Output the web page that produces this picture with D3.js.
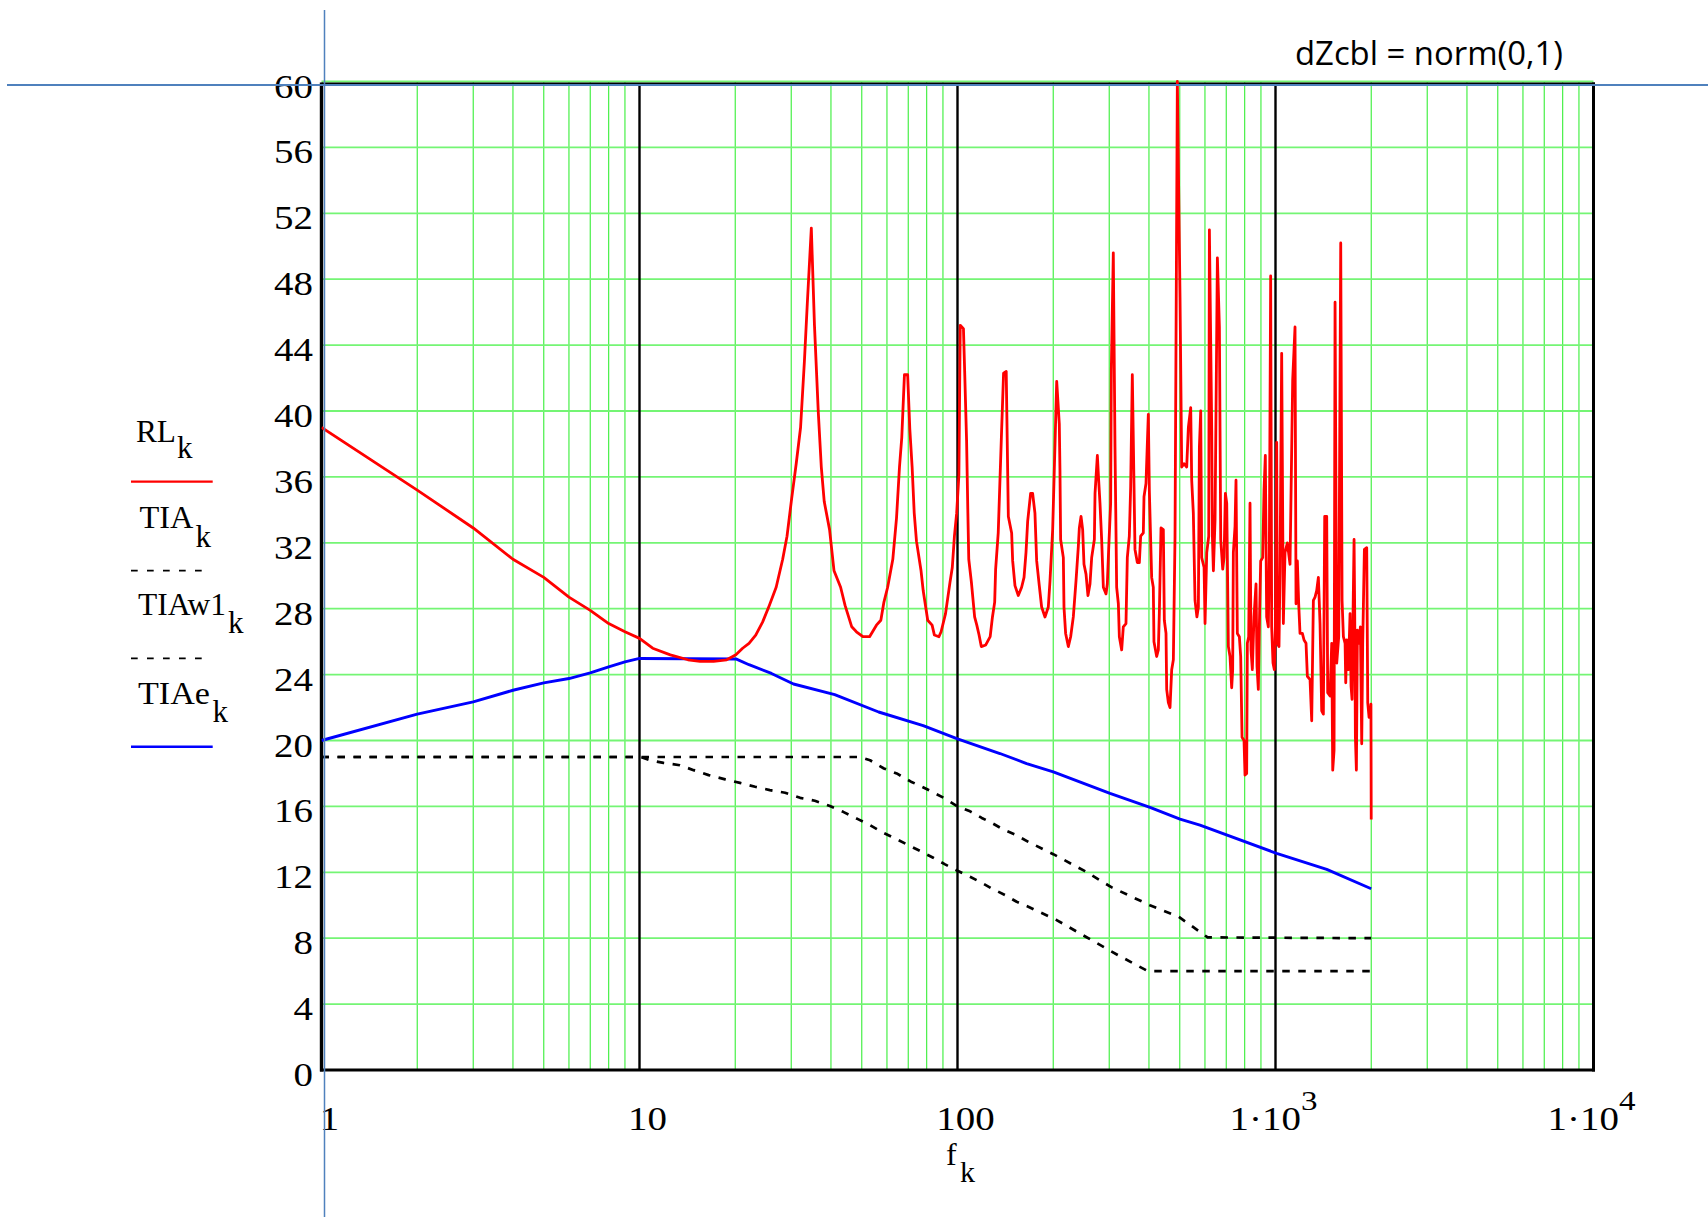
<!DOCTYPE html>
<html>
<head>
<meta charset="utf-8">
<script src="https://cdn.jsdelivr.net/npm/d3@7"></script>
<style>
  html, body { margin: 0; padding: 0; background: #ffffff; }
  svg { display: block; }
</style>
</head>
<body>
<svg id="chart" width="1708" height="1217"></svg>
<script>
// Return loss RL_k versus frequency f_k, with the TIA limit curves.
// Each point is [f, dB].
const rlData = [
  [1,39.0],[2,35.2],[3,32.9],[4,31.0],[5,29.9],[6,28.7],[7,27.9],[8,27.1],[9,26.6],[10,26.2],
  [11,25.6],[12.5,25.2],[14.2,24.9],[15.5,24.8],[17.1,24.8],[18.8,24.9],[20.1,25.2],[21.1,25.6],
  [22.1,25.9],[23.2,26.4],[24.4,27.2],[25.6,28.2],[26.9,29.3],[28.2,31.0],[29.1,32.4],[30.1,34.7],
  [31.1,36.8],[32.1,39.0],[33.0,43.0],[33.7,46.5],[34.7,51.1],[35.5,45.2],[36.5,39.9],[37.3,36.6],
  [38.1,34.5],[39.6,32.8],[40.9,30.3],[42.9,29.3],[44.3,28.2],[46.5,26.9],[48.1,26.6],[50.4,26.3],
  [52.9,26.3],[55.6,27.0],[57.4,27.3],[58.7,28.4],[60.3,29.3],[62.6,31.0],[64.3,33.5],[65.7,36.6],
  [66.8,38.4],[68.1,42.2],[69.7,42.2],[70.8,38.9],[72.0,36.6],[73.1,33.8],[74.3,32.1],[76.8,30.3],
  [78.0,29.1],[80.6,27.3],[83.2,27.0],[84.6,26.4],[87.4,26.3],[88.8,26.6],[91.7,27.7],[94.7,29.6],
  [96.3,30.5],[97.8,32.4],[99.4,33.8],[101.0,36.1],[102.0,45.2],[104.4,45.0],[105.4,42.2],[106.8,38.2],
  [107.8,33.8],[108.5,31.0],[110.6,29.6],[113.2,27.5],[115.0,27.0],[116.9,26.4],[118.8,25.7],[122.7,25.8],
  [126.7,26.3],[128.8,27.5],[130.9,28.4],[131.8,30.4],[134.3,32.6],[137.4,38.4],[139.6,42.3],[142.3,42.4],
  [144.5,33.6],[148.0,32.6],[149.1,30.9],[151.6,29.4],[155.3,28.8],[159.1,29.3],[161.9,29.9],[164.2,31.4],
  [166.2,33.3],[169.8,35.0],[172.3,35.0],[175.2,33.8],[177.4,30.9],[180.8,29.4],[183.9,28.1],[188.4,27.5],
  [193.0,28.1],[195.4,29.7],[199.2,32.8],[205.1,41.8],[209.0,39.2],[210.0,36.4],[211.0,32.2],[215.2,31.1],
  [216.2,28.1],[218.8,26.5],[223.1,25.7],[226.9,26.3],[231.3,27.5],[235.9,29.7],[239.9,31.8],[241.6,32.9],
  [244.6,33.6],[247.5,32.8],[249.9,30.7],[253.6,30.1],[257.2,28.8],[261.0,29.5],[264.2,31.1],[269.4,32.2],
  [270.7,35.0],[275.3,37.3],[277.9,35.8],[280.6,34.4],[284.0,32.2],[287.5,29.3],[293.1,28.9],[295.9,29.5],
  [298.8,31.6],[303.1,34.4],[304.6,42.5],[309.0,49.6],[312.8,37.8],[316.6,29.3],[320.5,28.3],[322.8,26.3],
  [328.3,25.5],[332.2,26.9],[338.7,27.1],[342.0,31.1],[347.0,32.4],[350.4,35.4],[354.6,42.2],[358.9,35.6],
  [361.5,31.6],[367.7,30.8],[373.1,30.8],[376.7,32.4],[384.0,32.6],[385.9,34.8],[391.5,35.6],[398.2,39.8],
  [401.1,35.2],[407.9,29.9],[412.8,29.3],[414.8,26.0],[423.0,25.1],[428.1,25.5],[431.2,27.7],[436.5,32.9],
  [443.9,32.8],[447.1,27.3],[452.6,26.5],[454.8,23.1],[460.3,22.3],[465.9,22.0],[471.6,24.3],[477.3,24.9],
  [483.1,32.4],[491.3,60.0],[500.9,46.9],[507.0,36.6],[515.6,36.8],[525.7,36.6],[532.1,39.0],[541.2,40.2],
  [545.1,35.8],[551.6,33.8],[558.4,28.5],[566.0,27.5],[572.1,28.1],[576.3,37.8],[581.9,40.0],[586.1,31.1],
  [596.2,30.5],[600.4,27.1],[607.8,31.4],[616.6,32.4],[619.6,51.0],[630.2,38.8],[633.2,32.4],[637.8,30.3],
  [645.5,33.4],[656.5,49.3],[666.1,45.1],[672.6,32.2],[682.4,30.4],[689.0,31.1],[695.7,35.0],[702.5,34.4],
  [710.9,25.7],[719.4,25.1],[728.1,23.2],[733.4,24.3],[737.0,31.4],[746.0,33.0],[751.3,35.8],[758.6,26.5],
  [769.7,26.3],[777.2,25.1],[784.8,20.2],[796.2,20.0],[801.9,17.9],[811.6,18.0],[815.6,25.9],[823.5,26.3],
  [831.5,34.4],[837.5,25.5],[845.6,24.3],[855.9,27.5],[868.4,29.5],[874.7,24.5],[883.1,23.1],[889.6,26.9],
  [898.3,30.9],[911.4,31.1],[920.3,35.2],[929.0,37.3],[938.0,27.5],[949.5,26.9],[956.3,31.4],[965.6,48.2],
  [972.7,26.9],[982.2,24.7],[991.6,24.3],[998.8,26.7],[1008.6,38.1],[1013.4,25.9],[1025.7,25.7],[1033.2,30.3],
  [1045.7,43.5],[1058.5,27.1],[1071.3,31.4],[1089.7,32.0],[1110.9,30.7],[1132.6,41.9],[1151.8,45.1],[1160.2,28.3],
  [1171.5,30.9],[1182.9,28.3],[1194.3,26.5],[1214.8,26.5],[1229.5,26.1],[1247.4,25.9],[1259.5,23.9],[1284.1,23.7],
  [1299.8,21.2],[1315.5,28.5],[1331.5,28.7],[1347.5,29.1],[1364.0,29.9],[1380.5,27.1],[1397.4,21.8],[1414.3,21.6],
  [1428.0,33.6],[1448.9,33.6],[1459.4,22.9],[1484.3,22.7],[1502.5,25.9],[1513.4,18.2],[1528.0,19.4],[1539.2,46.6],
  [1557.8,24.7],[1580.6,26.3],[1603.7,50.2],[1619.3,28.5],[1635.0,26.3],[1655.0,25.9],[1663.0,23.5],[1674.9,26.1],
  [1695.2,24.3],[1715.8,27.7],[1728.2,23.3],[1740.9,22.5],[1753.4,27.7],[1766.3,32.2],[1774.9,27.5],[1783.5,20.2],
  [1796.3,18.2],[1809.5,26.7],[1831.3,25.9],[1849.1,26.9],[1867.0,19.8],[1880.4,25.9],[1903.5,31.6],[1935.8,31.7],
  [1950.1,22.3],[1969.1,21.4],[1990.0,21.4],[1996.0,22.2],[2000.0,15.2]
];

const tiaData = [
  [1,19.0],[49.4,19.0],[53.1,18.8],[58.7,18.3],[64.4,18.0],[71.4,17.5],[77.2,17.2],[82.9,16.9],
  [90.9,16.5],[100,16.0],[109.5,15.7],[119.2,15.3],[128.1,15.0],[139.3,14.6],[151.6,14.3],[167,13.85],
  [200,13.1],[250,12.1],[304.6,11.1],[402.7,10.0],[496,9.3],[612,8.05],[2000,8.0]
];

const tiaw1Data = [
  [1,19.0],[10.1,19.0],[10.8,18.8],[11.9,18.64],[13.4,18.5],[14.8,18.2],[16.5,17.9],[18.6,17.64],
  [20.7,17.43],[23.1,17.19],[25.7,16.99],[28.7,16.83],[32,16.52],[35.6,16.34],[39.7,16.02],[43.7,15.67],
  [48.8,15.21],[53.1,14.86],[58.4,14.4],[63.6,14.06],[70,13.65],[76.2,13.3],[83.9,12.88],[91.4,12.48],
  [100,12.09],[109.5,11.73],[117.7,11.42],[128.1,11.02],[141,10.62],[153.5,10.21],[167,9.91],[205,9.1],
  [253,8.09],[319,6.98],[397,6.0],[2000,6.0]
];

const tiaeData = [
  [1,20.0],[2,21.6],[3,22.34],[4,23.05],[5,23.5],[6,23.76],[7,24.1],[8,24.47],[9,24.77],[10,24.98],
  [20.1,24.95],[22.1,24.6],[26,24.07],[30.5,23.43],[41.1,22.78],[56.5,21.73],[78,20.9],[100,20.1],
  [136,19.21],[165,18.6],[200.1,18.1],[301.7,16.79],[403,15.94],[500.9,15.23],[578.9,14.86],
  [1008,13.15],[1449,12.18],[2000,11.0]
];

const yTickValues = [0,4,8,12,16,20,24,28,32,36,40,44,48,52,56,60];
const xTickValues = [1,10,100,1000,10000];
const xTickMantissa = ["1","10","100","1\u00B710","1\u00B710"];
const xTickPower = ["","","","3","4"];
const legendNames = ["RL","TIA","TIAw1","TIAe"];
const xAxisName = "f";
const indexName = "k";
const titleText = "dZcbl = norm(0,1)";

// ---- layout ----
const plot = { left: 321.5, right: 1593.5, top: 81.5, bottom: 1070 };
const serif = "'Liberation Serif','Times New Roman',serif";

const x = d3.scaleLog().domain([1, 10000]).range([plot.left, plot.right]);
const y = d3.scaleLinear().domain([0, 60]).range([plot.bottom, plot.top]);

const svg = d3.select("#chart");

svg.append("defs").append("clipPath").attr("id", "plotClip")
  .append("rect")
  .attr("x", plot.left).attr("y", plot.top - 2)
  .attr("width", plot.right - plot.left).attr("height", plot.bottom - plot.top + 2);

// ---- grid ----
const grid = svg.append("g");
const minorTicks = [];
[1, 10, 100, 1000].forEach(dec => { for (let m = 2; m <= 9; m++) minorTicks.push(m * dec); });

grid.selectAll("line.vminor").data(minorTicks).join("line")
  .attr("class", "vminor")
  .attr("x1", d => x(d)).attr("x2", d => x(d))
  .attr("y1", plot.top).attr("y2", plot.bottom)
  .attr("stroke", "#36ee36").attr("stroke-width", 1.1);

grid.selectAll("line.hgrid").data(yTickValues.filter(v => v > 0)).join("line")
  .attr("class", "hgrid")
  .attr("x1", plot.left).attr("x2", plot.right)
  .attr("y1", d => y(d)).attr("y2", d => y(d))
  .attr("stroke", "#74f574").attr("stroke-width", 1.8);

grid.selectAll("line.vmajor").data(xTickValues.slice(1, -1)).join("line")
  .attr("class", "vmajor")
  .attr("x1", d => x(d)).attr("x2", d => x(d))
  .attr("y1", plot.top + 2).attr("y2", plot.bottom)
  .attr("stroke", "#000").attr("stroke-width", 2.4);

// ---- frame ----
const frame = svg.append("g").attr("stroke", "#000").attr("fill", "none");
frame.append("line").attr("x1", plot.left).attr("x2", plot.right + 1.5)
  .attr("y1", plot.top + 2).attr("y2", plot.top + 2).attr("stroke-width", 2);
frame.append("line").attr("x1", plot.left - 1.5).attr("x2", plot.right + 1.5)
  .attr("y1", plot.bottom).attr("y2", plot.bottom).attr("stroke-width", 3);
frame.append("line").attr("x1", plot.left).attr("x2", plot.left)
  .attr("y1", plot.top + 1).attr("y2", plot.bottom + 1.5).attr("stroke-width", 3.4);
frame.append("line").attr("x1", plot.right).attr("x2", plot.right)
  .attr("y1", plot.top + 1).attr("y2", plot.bottom + 1.5).attr("stroke-width", 3);

// ---- series ----
const line = d3.line().x(d => x(d[0])).y(d => y(d[1]));
const series = svg.append("g").attr("clip-path", "url(#plotClip)")
  .attr("fill", "none").attr("stroke-linejoin", "round");

series.append("path").datum(tiaData).attr("d", line)
  .attr("stroke", "#000").attr("stroke-width", 2.7).attr("stroke-dasharray", "7.5,8.5");
series.append("path").datum(tiaw1Data).attr("d", line)
  .attr("stroke", "#000").attr("stroke-width", 2.7).attr("stroke-dasharray", "7.5,8.5");
series.append("path").datum(tiaeData).attr("d", line)
  .attr("stroke", "#0000ff").attr("stroke-width", 2.9);
series.append("path").datum(rlData).attr("d", line)
  .attr("stroke", "#ff0000").attr("stroke-width", 2.8);

// ---- tick labels ----
const labels = svg.append("g").attr("font-family", serif).attr("fill", "#000");

labels.selectAll("text.ylab").data(yTickValues).join("text")
  .attr("class", "ylab")
  .attr("transform", d => `translate(313,${y(d) + 16}) scale(1.18,1)`)
  .attr("text-anchor", "end")
  .attr("font-size", 33)
  .text(d => d);

xTickValues.forEach((v, i) => {
  const hasPow = xTickPower[i] !== "";
  const cx = x(v) + (hasPow ? -2 : 8);
  const t = labels.append("text")
    .attr("transform", `translate(${cx},1130) scale(1.18,1)`)
    .attr("text-anchor", "middle")
    .attr("font-size", 33);
  t.append("tspan").text(xTickMantissa[i]);
  if (hasPow) {
    t.append("tspan").attr("dx", 0).attr("dy", -20).attr("font-size", 28).text(xTickPower[i]);
  }
});

// axis variable f_k
const xName = labels.append("text").attr("font-size", 32);
xName.append("tspan").attr("x", 946).attr("y", 1165).text(xAxisName);
xName.append("tspan").attr("x", 960).attr("y", 1182).attr("font-size", 30).text(indexName);

// ---- legend ----
const legend = svg.append("g").attr("font-family", serif).attr("fill", "#000");
const legendLayout = [
  { nx: 136,   ny: 441.7, kx: 177,   ky: 458.3, ly: 481.7, len: 40 },
  { nx: 139.5, ny: 528.3, kx: 195.5, ky: 546.7, ly: 570.7, len: 54 },
  { nx: 138,   ny: 615,   kx: 228,   ky: 633.3, ly: 658.3, len: 88 },
  { nx: 138,   ny: 704,   kx: 212.5, ky: 721.7, ly: 746.7, len: 72 }
];
const legendStroke = [
  { color: "#ff0000", dash: null, w: 2.2, x2: 212.7 },
  { color: "#000000", dash: "6.7,9.3", w: 1.8, x2: 201.7 },
  { color: "#000000", dash: "6.7,9.3", w: 1.8, x2: 201.7 },
  { color: "#0000ff", dash: null, w: 2.6, x2: 212.7 }
];
legendNames.forEach((name, i) => {
  const L = legendLayout[i], S = legendStroke[i];
  legend.append("text").attr("x", L.nx).attr("y", L.ny).attr("font-size", 31)
    .attr("textLength", L.len).attr("lengthAdjust", "spacingAndGlyphs")
    .text(name);
  legend.append("text").attr("x", L.kx).attr("y", L.ky).attr("font-size", 31).text(indexName);
  const ln = legend.append("line")
    .attr("x1", 131).attr("x2", S.x2).attr("y1", L.ly).attr("y2", L.ly)
    .attr("stroke", S.color).attr("stroke-width", S.w);
  if (S.dash) ln.attr("stroke-dasharray", S.dash);
});

// ---- header text ----
svg.append("text")
  .attr("x", 1295).attr("y", 65)
  .attr("font-family", "'Open Sans','Liberation Sans',sans-serif")
  .attr("font-size", 33)
  .attr("textLength", 268).attr("lengthAdjust", "spacingAndGlyphs")
  .attr("fill", "#000")
  .text(titleText);

// ---- cursor cross-hair ----
const cursor = svg.append("g").attr("stroke", "#4f81bd");
cursor.append("line").attr("x1", 7).attr("x2", 1708).attr("y1", 85).attr("y2", 85).attr("stroke-width", 2.2);
cursor.append("line").attr("x1", 324.5).attr("x2", 324.5).attr("y1", 10).attr("y2", 1217).attr("stroke-width", 1.5);
</script>
</body>
</html>
